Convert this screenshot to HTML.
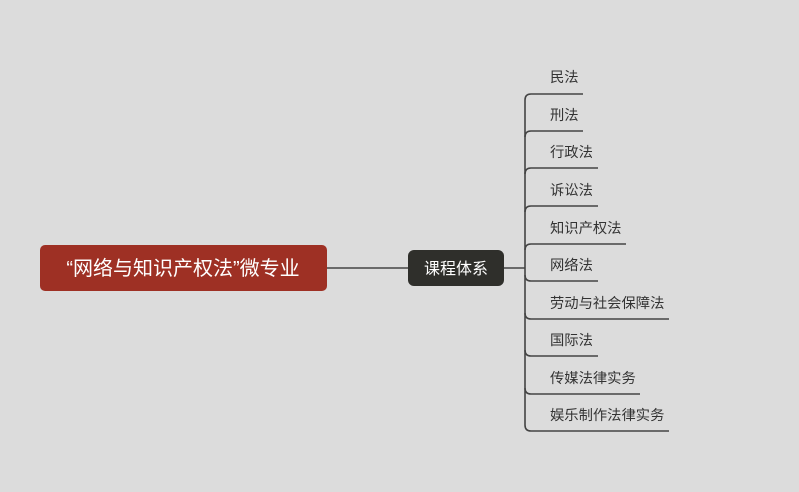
<!DOCTYPE html>
<html><head><meta charset="utf-8"><style>
html,body{margin:0;padding:0;background:#dcdcdc;}
body{width:799px;height:492px;overflow:hidden;position:relative;font-family:"Liberation Sans","Noto Sans CJK SC",sans-serif;}
.t{position:absolute;font-size:14.3px;color:#333;left:550px;white-space:nowrap;line-height:16px;}
</style></head><body>
<svg width="799" height="492" style="position:absolute;left:0;top:0">
<rect x="40" y="245" width="287" height="46" rx="5" fill="#9e3024"/>
<rect x="408" y="250" width="96" height="36" rx="6" fill="#2f2f2b"/>
<g stroke="#444" stroke-width="1.6" fill="none">
<line x1="327" y1="268" x2="408" y2="268"/>
<line x1="504" y1="268" x2="525" y2="268"/>
<line x1="525" y1="100" x2="525" y2="425"/>
<path d="M525,100 Q525,94 531,94 L583,94"/>
<path d="M525,137 Q525,131 531,131 L583,131"/>
<path d="M525,174 Q525,168 531,168 L598,168"/>
<path d="M525,212 Q525,206 531,206 L598,206"/>
<path d="M525,250 Q525,244 531,244 L626,244"/>
<path d="M525,275 Q525,281 531,281 L598,281"/>
<path d="M525,313 Q525,319 531,319 L669,319"/>
<path d="M525,350 Q525,356 531,356 L598,356"/>
<path d="M525,388 Q525,394 531,394 L640,394"/>
<path d="M525,425 Q525,431 531,431 L669,431"/>
</g>
<text x="183" y="275" text-anchor="middle" fill="#fff" font-size="20" font-family="Liberation Sans, Noto Sans CJK SC, sans-serif">“网络与知识产权法”微专业</text>
<text x="456" y="274" text-anchor="middle" fill="#fff" font-size="16" font-family="Liberation Sans, Noto Sans CJK SC, sans-serif">课程体系</text>
</svg>
<div class="t" style="top:70px">民法</div>
<div class="t" style="top:108px">刑法</div>
<div class="t" style="top:145px">行政法</div>
<div class="t" style="top:183px">诉讼法</div>
<div class="t" style="top:221px">知识产权法</div>
<div class="t" style="top:258px">网络法</div>
<div class="t" style="top:296px">劳动与社会保障法</div>
<div class="t" style="top:333px">国际法</div>
<div class="t" style="top:371px">传媒法律实务</div>
<div class="t" style="top:408px">娱乐制作法律实务</div>
</body></html>
